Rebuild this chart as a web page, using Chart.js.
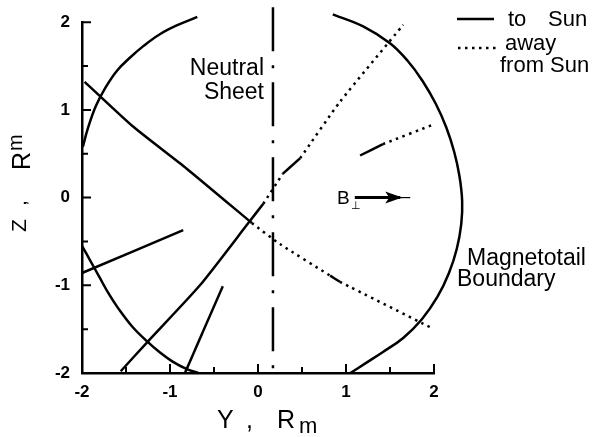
<!DOCTYPE html>
<html>
<head>
<meta charset="utf-8">
<script src="https://cdn.jsdelivr.net/npm/chart.js@4"></script>
<style>
  html, body { margin: 0; padding: 0; background: #fff; }
  #wrap { width: 602px; height: 437px; }
</style>
</head>
<body>
<div id="wrap"><canvas id="c"></canvas></div>
<script>
// axis ranges (Y and Z in Mars radii) and tick spacing
const yRange = [-2, 2];
const zRange = [-2, 2];
const tickStep = 0.5;

// magnetotail boundary, the three visible arcs as [Y, Z]
const boundaryUpperLeft = [[-1.99, 0.58], [-1.93, 0.80], [-1.84, 1.05], [-1.73, 1.26], [-1.60, 1.45],
  [-1.45, 1.60], [-1.30, 1.73], [-1.12, 1.86], [-0.93, 1.96], [-0.69, 2.06]];
const boundaryLowerLeft = [[-2.0, -0.55], [-1.90, -0.73], [-1.80, -0.91], [-1.70, -1.09], [-1.59, -1.26],
  [-1.43, -1.47], [-1.26, -1.64], [-1.11, -1.77], [-0.97, -1.87], [-0.82, -1.95], [-0.68, -2.0]];
const boundaryRight = [[0.85, 2.09], [1.20, 1.95], [1.50, 1.76], [1.70, 1.56], [1.87, 1.33], [2.02, 1.07],
  [2.14, 0.80], [2.23, 0.52], [2.29, 0.24], [2.32, -0.04], [2.31, -0.30], [2.26, -0.58], [2.17, -0.86],
  [2.04, -1.13], [1.86, -1.39], [1.65, -1.60], [1.42, -1.76], [1.22, -1.89], [1.05, -2.0]];

// neutral sheet
const neutralSheetY = 0.17;
const neutralSheetZ = [2.17, -2.0];

// field direction along the tracks, split by sense
const toSunSegments = [
  [[-1.97, 1.32], [-1.42, 0.81], [-0.81, 0.33], [-0.07, -0.29]],
  [[0.82, -0.89], [0.93, -0.96]],
  [[-1.56, -1.98], [-1.26, -1.65], [-0.66, -1.00], [-0.11, -0.29], [0.06, -0.07]],
  [[0.28, 0.27], [0.48, 0.45]],
  [[1.16, 0.48], [1.42, 0.61]],
  [[-2.0, -0.86], [-0.85, -0.37]],
  [[-0.83, -2.0], [-0.40, -1.01]]
];
const awaySegments = [
  [[-0.07, -0.29], [0.25, -0.53], [0.82, -0.89]],
  [[0.93, -0.96], [1.98, -1.49]],
  [[0.06, -0.07], [0.28, 0.27]],
  [[0.48, 0.45], [0.93, 1.09], [1.65, 1.97]],
  [[1.42, 0.61], [2.01, 0.84]]
];

// B-perp arrow along Y at Z = 0
const bArrowY = [1.10, 1.73];
const bArrowZ = 0;

const FONT = "'Liberation Sans', Arial, Helvetica, sans-serif";
const toXY = pts => pts.map(p => ({ x: p[0], y: p[1] }));

const lineSet = (pts, extra) => Object.assign({
  data: toXY(pts),
  borderColor: '#000',
  borderWidth: 2.5,
  pointRadius: 0,
  pointHoverRadius: 0,
  fill: false,
  clip: false,
  tension: 0.3
}, extra);

const datasets = [];
[boundaryUpperLeft, boundaryLowerLeft, boundaryRight].forEach(arc => {
  datasets.push(lineSet(arc, { label: 'boundary', tension: 0.4 }));
});
datasets.push(lineSet([[neutralSheetY, neutralSheetZ[0]], [neutralSheetY, neutralSheetZ[1]]],
  { label: 'neutral sheet', borderDash: [44, 14, 3, 14], tension: 0 }));
toSunSegments.forEach(seg => datasets.push(lineSet(seg, { label: 'to Sun', tension: 0.2 })));
awaySegments.forEach(seg => datasets.push(lineSet(seg, { label: 'away from Sun', borderDash: [2.5, 4.5], tension: 0.2 })));

// inward tick marks, long on integers, short on halves
const innerTicks = {
  id: 'innerTicks',
  afterDraw(chart) {
    const { ctx, chartArea: a, scales: { x, y } } = chart;
    ctx.save();
    ctx.strokeStyle = '#000';
    ctx.lineWidth = 2;
    ctx.beginPath();
    x.ticks.forEach(t => {
      const px = x.getPixelForValue(t.value);
      const len = Number.isInteger(t.value) ? 9 : 6;
      ctx.moveTo(px, a.bottom);
      ctx.lineTo(px, a.bottom - len);
    });
    y.ticks.forEach(t => {
      const py = y.getPixelForValue(t.value);
      const len = Number.isInteger(t.value) ? 9 : 6;
      ctx.moveTo(a.left, py);
      ctx.lineTo(a.left + len, py);
    });
    ctx.stroke();
    ctx.restore();
  }
};

// axis titles, labels, legend and the B-perp arrow
const notes = {
  id: 'notes',
  afterDraw(chart) {
    const { ctx, scales: { x, y } } = chart;
    ctx.save();
    ctx.fillStyle = '#000';
    ctx.strokeStyle = '#000';
    ctx.textBaseline = 'alphabetic';
    ctx.textAlign = 'left';

    // x title: Y , R_m
    ctx.font = `25px ${FONT}`;
    ctx.fillText('Y', 217, 428);
    ctx.fillText(',', 246, 428);
    ctx.fillText('R', 277, 428);
    ctx.font = `22px ${FONT}`;
    ctx.fillText('m', 299, 433);

    // y title: Z , R_m (rotated)
    ctx.save();
    ctx.translate(30, 232);
    ctx.rotate(-Math.PI / 2);
    ctx.font = `21px ${FONT}`;
    ctx.fillText('Z', 0, -4);
    ctx.fillText(',', 26, -4);
    ctx.font = `25px ${FONT}`;
    ctx.fillText('R', 62, 0);
    ctx.font = `20px ${FONT}`;
    ctx.fillText('m', 81, -8);
    ctx.restore();

    // neutral sheet label
    ctx.font = `23px ${FONT}`;
    ctx.textAlign = 'right';
    ctx.fillText('Neutral', 264, 75);
    ctx.fillText('Sheet', 264, 99);

    // boundary label
    ctx.textAlign = 'left';
    ctx.fillText('Magnetotail', 467, 265);
    ctx.fillText('Boundary', 457, 286);

    // legend
    ctx.lineWidth = 2.5;
    ctx.beginPath();
    ctx.moveTo(457, 19);
    ctx.lineTo(494, 19);
    ctx.stroke();
    ctx.setLineDash([2.5, 4.5]);
    ctx.beginPath();
    ctx.moveTo(458, 48);
    ctx.lineTo(496, 48);
    ctx.stroke();
    ctx.setLineDash([]);
    ctx.font = `22px ${FONT}`;
    ctx.fillText('to', 508, 26);
    ctx.fillText('Sun', 548, 26);
    ctx.fillText('away', 505, 50);
    ctx.fillText('from Sun', 500, 72);

    // B-perp arrow
    const x0 = x.getPixelForValue(bArrowY[0]);
    const x1 = x.getPixelForValue(bArrowY[1]);
    const py = y.getPixelForValue(bArrowZ);
    ctx.font = `19px ${FONT}`;
    ctx.fillText('B', 337, py + 6);
    ctx.font = `11px 'DejaVu Sans', sans-serif`;
    ctx.fillText('\u22A5', 351, py + 11);
    ctx.lineWidth = 3;
    ctx.beginPath();
    ctx.moveTo(x0, py);
    ctx.lineTo(x1 - 10, py);
    ctx.stroke();
    ctx.lineWidth = 1.2;
    ctx.beginPath();
    ctx.moveTo(x1 - 10, py);
    ctx.lineTo(x1, py);
    ctx.stroke();
    ctx.beginPath();
    ctx.moveTo(x1 - 8, py);
    ctx.lineTo(x1 - 25, py - 6);
    ctx.lineTo(x1 - 21, py);
    ctx.lineTo(x1 - 25, py + 6);
    ctx.closePath();
    ctx.fill();

    ctx.restore();
  }
};

const tickFont = { family: FONT, size: 17, weight: 'bold' };
const intLabel = v => (Number.isInteger(v) ? String(v) : '');

new Chart(document.getElementById('c'), {
  type: 'line',
  data: { datasets },
  options: {
    responsive: true,
    maintainAspectRatio: false,
    animation: false,
    events: [],
    layout: { padding: { left: 0, top: 20, right: 168, bottom: 0 } },
    elements: { line: { capBezierPoints: false } },
    plugins: { legend: { display: false }, tooltip: { enabled: false } },
    scales: {
      x: {
        type: 'linear',
        min: yRange[0],
        max: yRange[1],
        grid: { display: false, drawTicks: false },
        border: { display: true, color: '#000', width: 2.5 },
        ticks: { stepSize: tickStep, color: '#000', font: tickFont, padding: 9, maxRotation: 0, autoSkip: false, callback: intLabel },
        afterFit(scale) { scale.height = 64; }
      },
      y: {
        type: 'linear',
        min: zRange[0],
        max: zRange[1],
        grid: { display: false, drawTicks: false },
        border: { display: true, color: '#000', width: 2.5 },
        ticks: { stepSize: tickStep, color: '#000', font: tickFont, padding: 12, autoSkip: false, callback: intLabel },
        afterFit(scale) { scale.width = 82; }
      }
    }
  },
  plugins: [innerTicks, notes]
});
</script>
</body>
</html>
